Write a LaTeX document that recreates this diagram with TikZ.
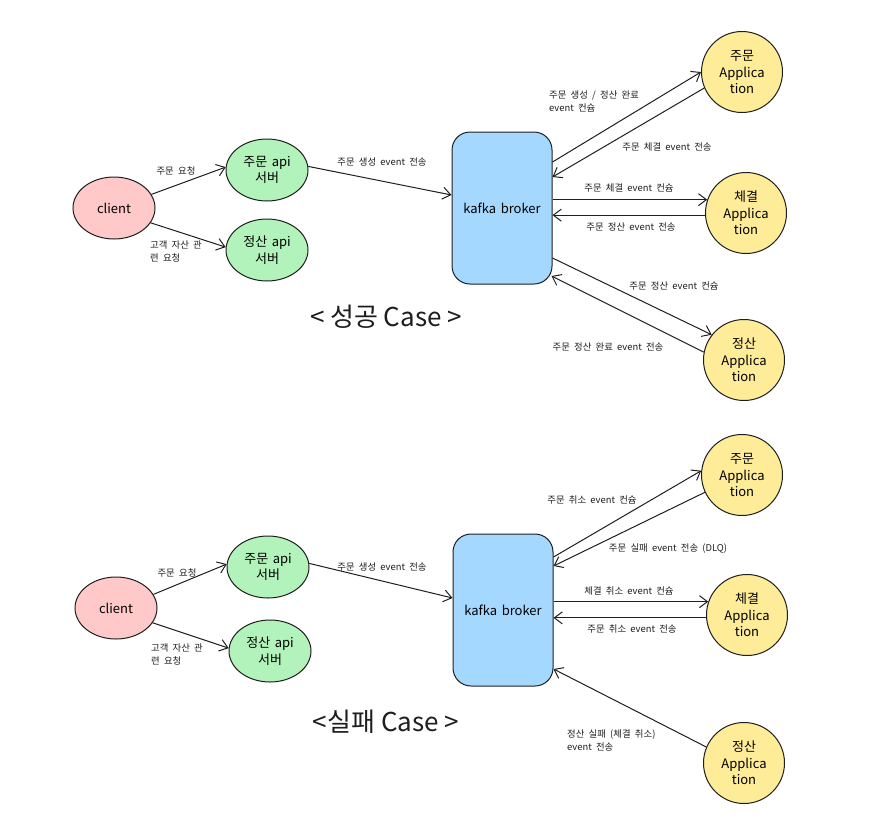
\documentclass[tikz,border=0pt]{standalone}
\usepackage{fontspec}
\setmainfont{Noto Sans CJK KR}
\usetikzlibrary{arrows.meta,shapes.geometric}
\definecolor{ink}{HTML}{1E1E1E}
\definecolor{cpink}{HTML}{FFC9C9}
\definecolor{cgreen}{HTML}{B2F2BB}
\definecolor{cblue}{HTML}{A5D8FF}
\definecolor{cyellow}{HTML}{FFEC99}
\newcommand{\nodefnt}{\fontsize{13}{16.5}\selectfont\setlength{\spaceskip}{0.35em}}
\newcommand{\lblfnt}{\fontsize{9.4}{13}\selectfont\setlength{\spaceskip}{0.45em}}
\tikzset{
  base/.style={draw=ink, line width=1pt, align=center, inner sep=0pt, font={\nodefnt}},
  clientnode/.style={base, ellipse, fill=cpink, minimum width=82pt, minimum height=62pt},
  apinode/.style={base, ellipse, fill=cgreen, minimum width=82pt, minimum height=62pt},
  kafkanode/.style={base, rectangle, rounded corners=18pt, fill=cblue, minimum width=100pt, minimum height=152pt},
  appnode/.style={base, circle, fill=cyellow, minimum size=81pt},
  arr/.style={draw=ink, line width=1pt, -{Straight Barb[length=8pt,width=12pt,line width=1pt]}},
  lbl/.style={font={\lblfnt}, text=ink, inner sep=0pt},
  lbll/.style={lbl, align=left, anchor=west},
  title/.style={font=\fontsize{26}{30}\selectfont, text=ink, inner sep=0pt}
}
\begin{document}
\begin{tikzpicture}[x=1pt,y=-1pt]
\useasboundingbox (0,0) rectangle (894,833);
% ===== Success case =====
\node[clientnode] (c1) at (114,208) {client};
\node[apinode] (o1) at (267,170) {주문 api\\서버};
\node[apinode] (s1) at (267,250) {정산 api\\서버};
\node[kafkanode] (k1) at (502,208) {kafka broker};
\node[appnode] (oa1) at (742,72) {주문\\Applica\\tion};
\node[appnode] (ca1) at (746,213) {체결\\Applica\\tion};
\node[appnode] (sa1) at (744,360) {정산\\Applica\\tion};

\draw[arr] (c1.20) -- (o1.176);
\draw[arr] (c1.-22) -- (s1.176);
\draw[arr] (o1.5) -- ([yshift=13pt]k1.west);
\draw[arr] ([yshift=46pt]k1.east) -- (oa1.180);
\draw[arr] (oa1.203) -- ([yshift=31pt]k1.east);
\draw[arr] (k1.east |- ca1.161.5) -- (ca1.161.5);
\draw[arr] (ca1.183) -- (k1.east |- ca1.183);
\draw[arr] ([yshift=-50pt]k1.east) -- (sa1.142);
\draw[arr] (sa1.169) -- ([yshift=-68pt,xshift=-1pt]k1.east);

\node[lbl] (l1) at (176,171) {주문 요청};
\node[lbll] (l2) at (150,251) {고객 자산 관\\련 요청};
\node[lbl] (l3) at (382,162) {주문 생성 event 전송};
\node[lbll] (l4) at (549,101) {주문 생성 / 정산 완료\\event 컨슘};
\node[lbl] (l5) at (667,147) {주문 체결 event 전송};
\node[lbl] (l6) at (629,188) {주문 체결 event 컨슘};
\node[lbl] (l7) at (631,227) {주문 정산 event 전송};
\node[lbl] (l8) at (674,286) {주문 정산 event 컨슘};
\node[lbl] (l9) at (608,347) {주문 정산 완료 event 전송};
\node[title] (t1) at (386,317) {< 성공 Case >};

% ===== Failure case =====
\node[clientnode] (c2) at (116,608) {client};
\node[apinode] (o2) at (268,567) {주문 api\\서버};
\node[apinode] (s2) at (270,651) {정산 api\\서버};
\node[kafkanode] (k2) at (503,610) {kafka broker};
\node[appnode] (oa2) at (742,475) {주문\\Applica\\tion};
\node[appnode] (ca2) at (747,615) {체결\\Applica\\tion};
\node[appnode] (sa2) at (744,763) {정산\\Applica\\tion};

\draw[arr] (c2.20) -- (o2.176);
\draw[arr] (c2.-22) -- (s2.176);
\draw[arr] (o2.5) -- ([yshift=12pt]k2.west);
\draw[arr] ([yshift=53pt]k2.east) -- (oa2.174);
\draw[arr] (oa2.205) -- ([yshift=44pt]k2.east);
\draw[arr] (k2.east |- ca2.161.5) -- (ca2.161.5);
\draw[arr] (ca2.184) -- (k2.east |- ca2.184);
\draw[arr] (sa2.157) -- ([yshift=-59pt]k2.east);

\node[lbl] (m1) at (177,573) {주문 요청};
\node[lbll] (m2) at (151,654) {고객 자산 관\\련 요청};
\node[lbl] (m3) at (382,567) {주문 생성 event 전송};
\node[lbl] (m4) at (592,500) {주문 취소 event 컨슘};
\node[lbl] (m5) at (668,549) {주문 실패 event 전송 (DLQ)};
\node[lbl] (m6) at (629,591) {체결 취소 event 컨슘};
\node[lbl] (m7) at (632,629) {주문 취소 event 전송};
\node[lbll] (m8) at (567,740) {정산 실패 (체결 취소)\\event 전송};
\node[title] (t2) at (386,722) {<실패 Case >};
\end{tikzpicture}
\end{document}
